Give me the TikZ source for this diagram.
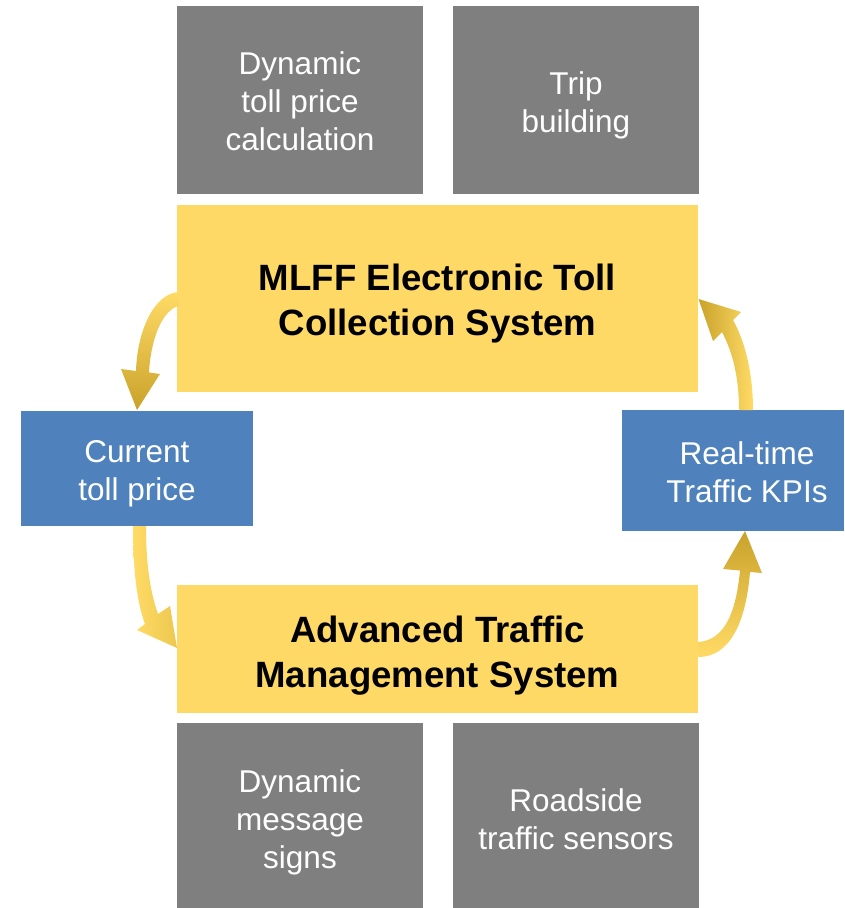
\documentclass[tikz,border=0pt]{standalone}
\usepackage{fontspec}
\setmainfont{Liberation Sans}
\usetikzlibrary{calc}

\definecolor{boxgray}{HTML}{7F7F7F}
\definecolor{boxgold}{HTML}{FFD966}
\definecolor{boxblue}{HTML}{4F81BD}
\definecolor{arrowlight}{HTML}{FFDB66}
\definecolor{arrowmid}{HTML}{EDC84F}
\definecolor{arrowdark}{HTML}{C9A22A}

\tikzset{
  graybox/.style={fill=boxgray, draw=none, inner sep=0pt},
  goldbox/.style={fill=boxgold, draw=none, inner sep=0pt, minimum width=521pt},
  bluebox/.style={fill=boxblue, draw=none, inner sep=0pt},
  whitetext/.style={inner sep=0pt, align=center, text=white,
    font=\fontsize{31.5}{38}\selectfont},
  boldtext/.style={inner sep=0pt, align=center, text=black,
    font=\fontsize{36.6}{45}\selectfont\bfseries},
}

\begin{document}
\begin{tikzpicture}[x=1pt, y=-1pt]
  \useasboundingbox (0,0) rectangle (844,908);

  % component boxes above the toll system
  \node[graybox, minimum width=246pt, minimum height=188pt] (price) at (300,100) {};
  \node[whitetext] (price-t) at ($(price.center)+(0,1)$) {Dynamic\\toll price\\calculation};
  \node[graybox, minimum width=246pt, minimum height=188pt] (trip) at (576,100) {};
  \node[whitetext] (trip-t) at ($(trip.center)+(0,5)$) {Trip\\building};

  % the two main systems
  \node[goldbox, minimum height=187pt] (mlff) at (437.5,298.5) {};
  \node[boldtext] (mlff-t) at ($(mlff.center)+(0,5)$) {MLFF Electronic Toll\\Collection System};
  \node[goldbox, minimum height=128pt] (atms) at (437.5,649) {};
  \node[boldtext] (atms-t) at ($(atms.center)+(0,7)$) {Advanced Traffic\\Management System};

  % exchanged data
  \node[bluebox, minimum width=232pt, minimum height=115pt] (current) at (137,468.5) {};
  \node[whitetext] (current-t) at ($(current.center)+(0,5)$) {Current\\toll price};
  \node[bluebox, minimum width=222pt, minimum height=121pt] (kpi) at (733,470.5) {};
  \node[whitetext] (kpi-t) at ($(kpi.center)+(14,2)$) {Real-time\\Traffic KPIs};

  % component boxes below the traffic management system
  \node[graybox, minimum width=246pt, minimum height=185pt] (signs) at (300,815.5) {};
  \node[whitetext] (signs-t) at ($(signs.center)+(0,7)$) {Dynamic\\message\\signs};
  \node[graybox, minimum width=246pt, minimum height=185pt] (sensors) at (576,815.5) {};
  \node[whitetext] (sensors-t) at ($(sensors.center)+(0,4)$) {Roadside\\traffic sensors};

  % curved block arrows between the systems
  % toll system -> current toll price
  \shade[top color=arrowlight, middle color=arrowmid, bottom color=arrowdark]
    (178.5,292) .. controls (153,294) and (137,333) .. (136,371)
    -- (121,369) -- (137,410) -- (160,374) -- (149,372.5)
    .. controls (151,337) and (163,310) .. (178.5,306) -- cycle;

  % current toll price -> traffic management system
  \shade[left color=arrowlight, right color=arrowmid]
    (133,526) .. controls (133,570) and (137,603) .. (145,624)
    -- (137,630) -- (177,648) -- (170,606) -- (158,614)
    .. controls (151,594) and (146,568) .. (146,526) -- cycle;

  % traffic management system -> KPIs
  \shade[bottom color=arrowlight, middle color=arrowmid, top color=arrowdark]
    (698.5,642) .. controls (725,640) and (736,612) .. (740,570.5)
    -- (723,569) -- (745,531) -- (762,573) -- (750,572)
    .. controls (746,622) and (730,657) .. (698.5,657) -- cycle;

  % KPIs -> toll system
  \shade[right color=arrowlight, left color=arrowdark]
    (739,410) .. controls (739,378) and (733,353) .. (722,332)
    -- (713,341) -- (698.5,299) -- (741,312) -- (733,320)
    .. controls (747,345) and (753,378) .. (753,410) -- cycle;
\end{tikzpicture}
\end{document}
